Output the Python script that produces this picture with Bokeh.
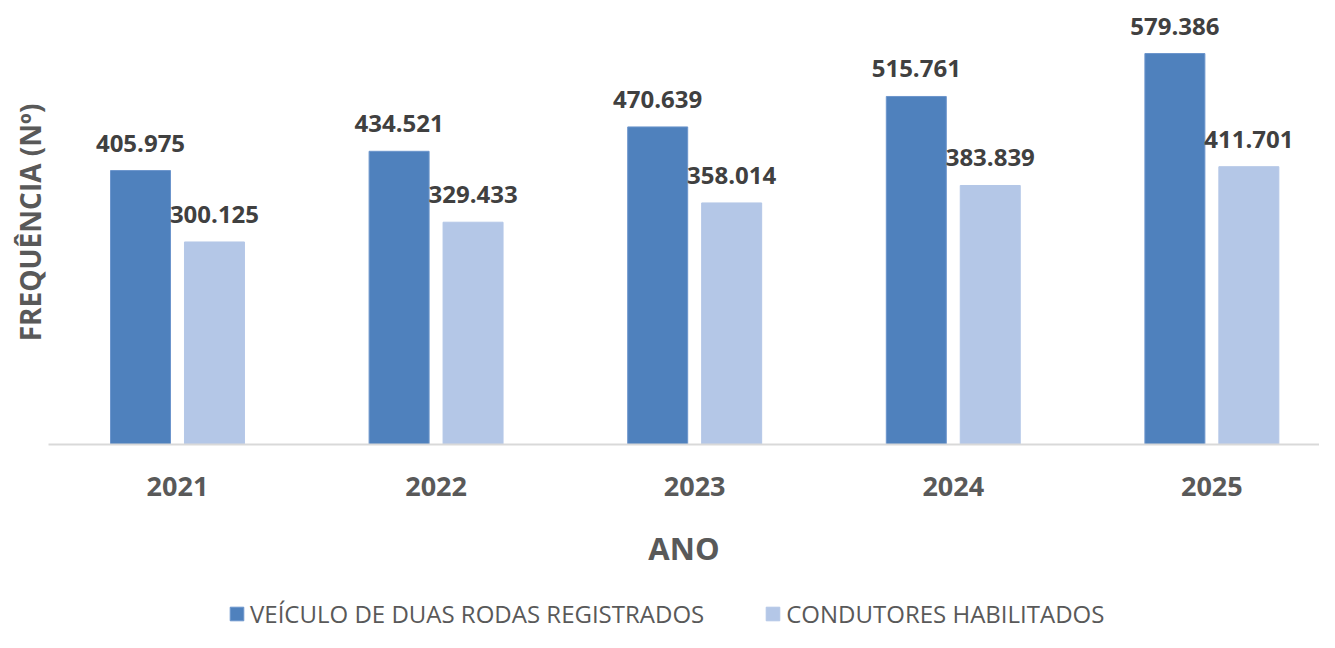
from bokeh.plotting import figure
from bokeh.models import (ColumnDataSource, Range1d, FixedTicker, LabelSet, Legend, LegendItem)
from bokeh.core.properties import value
from bokeh.transform import dodge
from bokeh.layouts import column
from bokeh.embed import file_html
from bokeh.resources import INLINE

years = ["2021", "2022", "2023", "2024", "2025"]
veiculos = [405.975, 434.521, 470.639, 515.761, 579.386]
condutores = [300.125, 329.433, 358.014, 383.839, 411.701]
series_names = ["VEÍCULO DE DUAS RODAS REGISTRADOS", "CONDUTORES HABILITADOS"]
colors = ["#4F81BD", "#B4C7E7"]
borders = ["#6C95CC", "#B4C7E7"]

pos = [i + 1 for i in range(len(years))]
src = ColumnDataSource(dict(
    x=pos, v=veiculos, c=condutores,
    vl=[f"{v:.3f}" for v in veiculos],
    cl=[f"{c:.3f}" for c in condutores],
))

FONT = "Open Sans"
GRAY = "#595959"

p = figure(frame_width=1271, frame_height=444, output_backend="svg", toolbar_location=None,
           x_range=Range1d(0.5012, 5.4162), y_range=Range1d(0, 658),
           min_border_left=48, min_border_right=0, min_border_top=0, min_border_bottom=150)
p.outline_line_color = None
p.xgrid.grid_line_color = None
p.ygrid.grid_line_color = None

W = 0.232
p.vbar(x=dodge("x", -0.143), top="v", width=W, source=src,
       fill_color=colors[0], line_color=borders[0], line_width=1)
p.vbar(x=dodge("x", 0.143), top="c", width=W, source=src,
       fill_color=colors[1], line_color=borders[1], line_width=1)

for col, lab, off in (("v", "vl", -0.143), ("c", "cl", 0.143)):
    ls = LabelSet(x=dodge("x", off), y=col, text=lab, source=src,
                  text_align="center", text_baseline="alphabetic", y_offset=19,
                  text_font=value(FONT), text_font_style="bold", text_font_size="24px",
                  text_color="#404040")
    p.add_layout(ls)

xa = p.xaxis[0]
xa.ticker = FixedTicker(ticks=pos)
xa.major_label_overrides = {p_: y for p_, y in zip(pos, years)}
xa.major_tick_line_color = None
xa.minor_tick_line_color = None
xa.major_tick_out = 0
xa.major_tick_in = 0
xa.axis_line_color = "#D9D9D9"
xa.axis_line_width = 2
xa.major_label_standoff = 32
xa.major_label_text_font = FONT
xa.major_label_text_font_style = "bold"
xa.major_label_text_font_size = "27px"
xa.major_label_text_color = GRAY
xa.axis_label = "ANO"
xa.axis_label_text_font = FONT
xa.axis_label_text_font_style = "bold"
xa.axis_label_text_font_size = "31px"
xa.axis_label_text_color = GRAY
xa.axis_label_standoff = 28

ya = p.yaxis[0]
ya.ticker = FixedTicker(ticks=[])
ya.axis_line_color = None
ya.major_tick_line_color = None
ya.minor_tick_line_color = None
ya.major_tick_out = 0
ya.major_tick_in = 0
ya.axis_label = "FREQUÊNCIA (Nº)"
ya.axis_label_text_font = FONT
ya.axis_label_text_font_style = "bold"
ya.axis_label_text_font_size = "28px"
ya.axis_label_text_color = GRAY
ya.axis_label_standoff = 0

# legend strip below the chart (its frame is aligned with the chart's frame)
q = figure(width=1319, height=38, output_backend="svg", toolbar_location=None,
           x_range=Range1d(0, 1), y_range=Range1d(0, 1),
           x_axis_location=None, y_axis_location=None,
           min_border_left=48, min_border_right=0, min_border_top=0, min_border_bottom=0)
q.outline_line_color = None
q.xgrid.grid_line_color = None
q.ygrid.grid_line_color = None
lr = [q.vbar(x=[5], top=[0], width=0.1, fill_color=colors[i], line_color=borders[i])
      for i in range(2)]
legend = Legend(items=[LegendItem(label=series_names[i], renderers=[lr[i]]) for i in range(2)],
                orientation="horizontal", location=(180, 2),
                label_text_font=FONT, label_text_font_size="24px", label_text_color=GRAY,
                glyph_width=17, glyph_height=17, label_standoff=5, spacing=60,
                padding=0, margin=0, border_line_color=None, background_fill_alpha=0)
q.add_layout(legend, "center")

layout = column(p, q, spacing=0)
open("out.html", "w").write(file_html(layout, INLINE))
